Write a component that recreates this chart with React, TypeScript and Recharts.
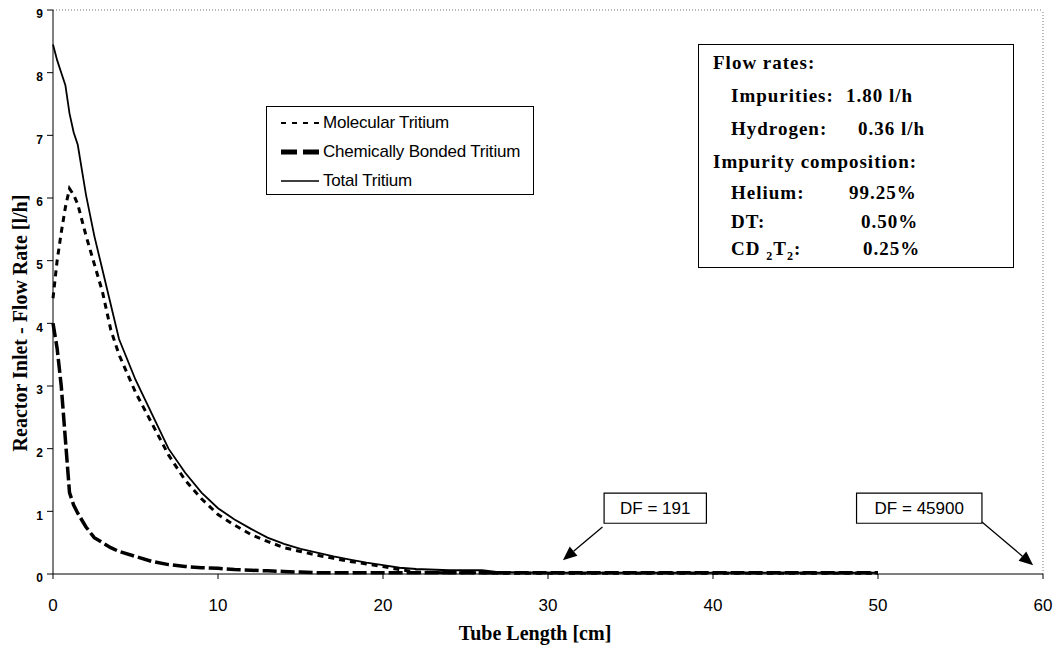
import React from "react";
import {
  LineChart,
  Line,
  XAxis,
  YAxis,
  ReferenceLine,
  ReferenceArea,
  Label,
} from "recharts";

// tube length [cm]
const tubeLength = [
  0, 0.25, 0.5, 0.75, 1, 1.25, 1.5, 2, 2.5, 3, 3.5, 4, 5, 6, 7, 8, 9, 10, 11, 12, 13, 14, 15, 16,
  17, 18, 19, 20, 21, 22, 24, 26, 27, 30, 35, 40, 45, 50,
];

const totalTritium = [
  8.45, 8.2, 8.0, 7.8, 7.35, 7.05, 6.85, 6.05, 5.4, 4.85, 4.3, 3.75, 3.1, 2.55, 2.0, 1.62, 1.3,
  1.05, 0.87, 0.72, 0.58, 0.48, 0.4, 0.34, 0.28, 0.23, 0.18, 0.14, 0.1, 0.08, 0.06, 0.06, 0.03,
  0.02, 0.02, 0.02, 0.02, 0.02,
];

const molecularTritium = [
  4.4, 5.0, 5.45, 5.85, 6.15, 6.05, 5.9, 5.4, 4.95, 4.5, 3.9, 3.5, 2.9, 2.4, 1.9, 1.5, 1.2, 0.95,
  0.78, 0.63, 0.52, 0.42, 0.36, 0.3, 0.25, 0.2, 0.16, 0.12, 0.07, 0.03, 0.02, 0.02, 0.01, 0.01,
  0.01, 0.01, 0.01, 0.01,
];

const bondedTritium = [
  4.0, 3.6, 3.0, 2.15, 1.3, 1.1, 0.97, 0.75, 0.58, 0.5, 0.42, 0.36, 0.28, 0.2, 0.15, 0.12, 0.1,
  0.09, 0.07, 0.06, 0.05, 0.04, 0.03, 0.02, 0.02, 0.02, 0.02, 0.02, 0.02, 0.02, 0.02, 0.02, 0.02,
  0.02, 0.02, 0.02, 0.02, 0.02,
];

const xTicks = [0, 10, 20, 30, 40, 50, 60];
const yTicks = [0, 1, 2, 3, 4, 5, 6, 7, 8, 9];

const data = tubeLength.map((x, i) => ({
  x,
  molecular: molecularTritium[i],
  bonded: bondedTritium[i],
  total: totalTritium[i],
}));

const legendItems = [
  { name: "Molecular Tritium", dash: "5 6", width: 2 },
  { name: "Chemically Bonded Tritium", dash: "16 6", width: 5 },
  { name: "Total Tritium", dash: undefined, width: 1.5 },
];

const serif = "'Liberation Serif', 'Times New Roman', serif";
const sans = "'Liberation Sans', Arial, sans-serif";

const Arrow = (props: any) => {
  const { x1, y1, x2, y2 } = props;
  const ang = Math.atan2(y2 - y1, x2 - x1);
  const len = 14;
  const w = 6;
  const bx = x2 - len * Math.cos(ang);
  const by = y2 - len * Math.sin(ang);
  const px = -Math.sin(ang) * w;
  const py = Math.cos(ang) * w;
  return (
    <g>
      <line x1={x1} y1={y1} x2={bx} y2={by} stroke="#000" strokeWidth={1.3} />
      <polygon points={`${x2},${y2} ${bx + px},${by + py} ${bx - px},${by - py}`} fill="#000" />
    </g>
  );
};

const LegendBox = () => (
  <div
    style={{
      position: "absolute",
      left: 266,
      top: 106,
      width: 268,
      height: 89,
      boxSizing: "border-box",
      border: "1.5px solid #000",
      background: "#fff",
      padding: "1px 0 0 14px",
      fontFamily: sans,
      fontSize: 17,
      letterSpacing: -0.2,
    }}
  >
    {legendItems.map((it) => (
      <div key={it.name} style={{ display: "flex", alignItems: "center", height: 29 }}>
        <svg width={40} height={10}>
          <line
            x1={0}
            y1={5}
            x2={38}
            y2={5}
            stroke="#000"
            strokeWidth={it.width}
            strokeDasharray={it.dash}
          />
        </svg>
        <span style={{ marginLeft: 2 }}>{it.name}</span>
      </div>
    ))}
  </div>
);

const infoRow = (label: React.ReactNode, value: string, h: number, valueLeft: number) => (
  <div style={{ position: "relative", height: h, lineHeight: `${h}px`, paddingLeft: 18 }}>
    <span>{label}</span>
    <span style={{ position: "absolute", left: valueLeft }}>{value}</span>
  </div>
);

const InfoBox = () => (
  <div
    style={{
      position: "absolute",
      left: 698,
      top: 44,
      width: 316,
      height: 224,
      border: "1.5px solid #000",
      boxSizing: "border-box",
      padding: "1px 0 0 14px",
      fontFamily: serif,
      fontWeight: "bold",
      fontSize: 19,
      letterSpacing: 1,
      lineHeight: "33px",
      background: "#fff",
    }}
  >
    <div style={{ height: 33 }}>Flow rates:</div>
    {infoRow("Impurities:", "1.80 l/h", 33, 133)}
    {infoRow("Hydrogen:", "0.36 l/h", 33, 145)}
    <div style={{ height: 32 }}>Impurity composition:</div>
    {infoRow("Helium:", "99.25%", 31, 136)}
    {infoRow("DT:", "0.50%", 27, 148)}
    {infoRow(
      <>
        CD <sub style={{ fontSize: 12 }}>2</sub>T<sub style={{ fontSize: 12 }}>2</sub>:
      </>,
      "0.25%",
      28,
      150
    )}
  </div>
);

export default function App() {
  return (
    <div style={{ position: "absolute", left: 0, top: 0, width: 1055, height: 650, background: "#fff" }}>
      <LineChart
        width={1055}
        height={650}
        data={data}
        margin={{ top: 10, right: 12, bottom: 26, left: 0 }}
      >
        <XAxis
          dataKey="x"
          type="number"
          domain={[0, 60]}
          ticks={xTicks}
          height={50}
          stroke="#000"
          tickSize={5}
          tick={{ fill: "#000", fontSize: 17, fontFamily: sans }}
          tickMargin={20}
        />
        <YAxis
          type="number"
          domain={[0, 9]}
          ticks={yTicks}
          width={53}
          stroke="#000"
          tickSize={6}
          tickMargin={4}
          tick={{ fill: "#000", fontSize: 12, fontWeight: "bold", fontFamily: sans, dy: 4 }}
        />
        <ReferenceLine y={9} stroke="#777" strokeDasharray="1 2" />
        <ReferenceLine x={60} stroke="#777" strokeDasharray="1 2" />
        <Line
          dataKey="bonded"
          name="Chemically Bonded Tritium"
          type="linear"
          stroke="#000"
          strokeWidth={3.5}
          strokeDasharray="14 4"
          dot={false}
          isAnimationActive={false}
        />
        <Line
          dataKey="molecular"
          name="Molecular Tritium"
          type="linear"
          stroke="#000"
          strokeWidth={3}
          strokeDasharray="6 5"
          dot={false}
          isAnimationActive={false}
        />
        <Line
          dataKey="total"
          name="Total Tritium"
          type="linear"
          stroke="#000"
          strokeWidth={1.8}
          dot={false}
          isAnimationActive={false}
        />
        <ReferenceArea x1={33.4} x2={39.6} y1={0.81} y2={1.29} fill="#fff" fillOpacity={1} stroke="#000" strokeWidth={1.2}>
          <Label value="DF = 191" position="center" fill="#000" fontSize={17} fontFamily={sans} />
        </ReferenceArea>
        <ReferenceArea x1={48.7} x2={56.3} y1={0.81} y2={1.29} fill="#fff" fillOpacity={1} stroke="#000" strokeWidth={1.2}>
          <Label value="DF = 45900" position="center" fill="#000" fontSize={17} fontFamily={sans} />
        </ReferenceArea>
        <ReferenceLine
          segment={[
            { x: 33.3, y: 0.75 },
            { x: 30.9, y: 0.22 },
          ]}
          shape={Arrow}
        />
        <ReferenceLine
          segment={[
            { x: 56.3, y: 0.83 },
            { x: 59.4, y: 0.14 },
          ]}
          shape={Arrow}
          ifOverflow="visible"
        />
        <text
          x={535}
          y={640}
          textAnchor="middle"
          fontFamily={serif}
          fontWeight="bold"
          fontSize={20}
        >
          Tube Length [cm]
        </text>
        <text
          x={27}
          y={323}
          textAnchor="middle"
          transform="rotate(-90 27 323)"
          fontFamily={serif}
          fontWeight="bold"
          fontSize={20}
        >
          Reactor Inlet - Flow Rate [l/h]
        </text>
      </LineChart>
      <LegendBox />
      <InfoBox />
    </div>
  );
}
